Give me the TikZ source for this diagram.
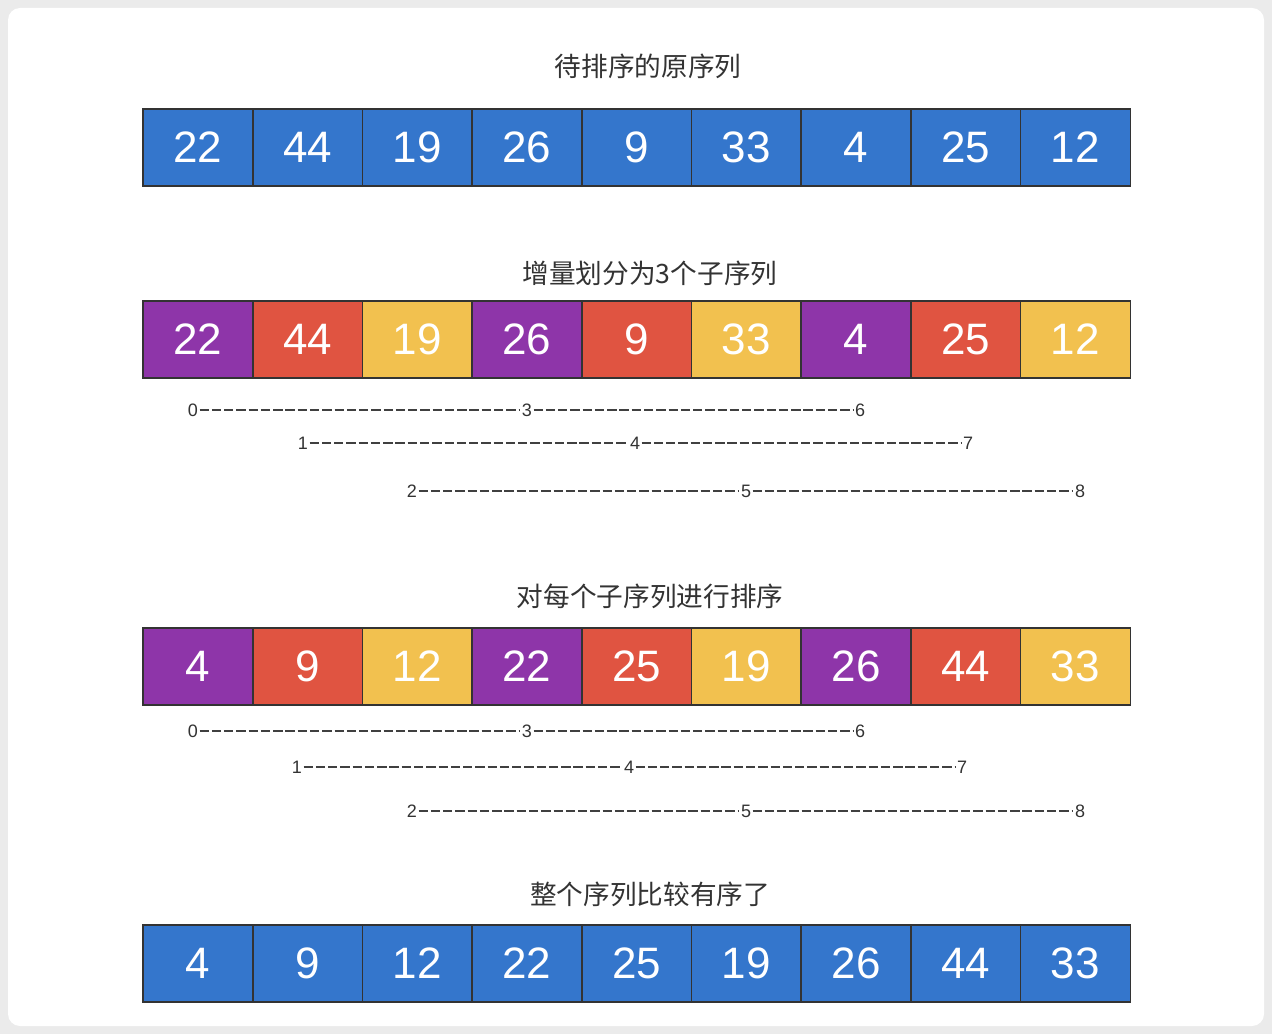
\documentclass[tikz,border=0pt]{standalone}
\usepackage{fontspec}
\setmainfont{Liberation Sans}
\newfontfamily\cjk{Noto Sans CJK SC}
\begin{document}
\begin{tikzpicture}[x=0.75pt,y=-0.75pt,
  cell/.style={draw=black!80,line width=1.2pt,minimum width=109.7*0.75pt,minimum height=77*0.75pt,inner sep=0pt,text=white,font=\fontsize{33}{36}\selectfont},
  ttl/.style={font=\cjk\fontsize{20}{22}\selectfont,text=black!80},
  idx/.style={font=\fontsize{13.5}{15}\selectfont,text=black!80,inner sep=1pt},
  dl/.style={draw=black!75,line width=0.9pt,dash pattern=on 7pt off 2.2pt}]
\definecolor{cb}{HTML}{3476CC}
\definecolor{cp}{HTML}{8E35A9}
\definecolor{cr}{HTML}{E05441}
\definecolor{cy}{HTML}{F2C14F}
\fill[black!8] (0,0) rectangle (1272,1034);
\fill[white,rounded corners=9pt] (8,8) rectangle (1264,1026);
\useasboundingbox (0,0) rectangle (1272,1034);
\node[ttl] (t1) at (648,66) {待排序的原序列};
\node[ttl] (t2) at (650,273) {增量划分为3个子序列};
\node[ttl] (t3) at (650,596) {对每个子序列进行排序};
\node[ttl] (t4) at (650,894) {整个序列比较有序了};
\foreach \v [count=\i] in {22,44,19,26,9,33,4,25,12}
  \node[cell,fill=cb] (a\i) at ({143+109.7*(\i-0.5)},147.5) {\v};
\foreach \v/\c [count=\i] in {22/cp,44/cr,19/cy,26/cp,9/cr,33/cy,4/cp,25/cr,12/cy}
  \node[cell,fill=\c] (b\i) at ({143+109.7*(\i-0.5)},339.5) {\v};
\foreach \v/\c [count=\i] in {4/cp,9/cr,12/cy,22/cp,25/cr,19/cy,26/cp,44/cr,33/cy}
  \node[cell,fill=\c] (c\i) at ({143+109.7*(\i-0.5)},666.5) {\v};
\foreach \v [count=\i] in {4,9,12,22,25,19,26,44,33}
  \node[cell,fill=cb] (d\i) at ({143+109.7*(\i-0.5)},963.5) {\v};
% index lines row 2
\node[idx] (p0) at (193,410) {0}; \node[idx] (p3) at (527,410) {3}; \node[idx] (p6) at (860,410) {6};
\node[idx] (p1) at (303,443) {1}; \node[idx] (p4) at (635,443) {4}; \node[idx] (p7) at (968,443) {7};
\node[idx] (p2) at (412,491) {2}; \node[idx] (p5) at (746,491) {5}; \node[idx] (p8) at (1080,491) {8};
\draw[dl] (p0)--(p3); \draw[dl] (p3)--(p6);
\draw[dl] (p1)--(p4); \draw[dl] (p4)--(p7);
\draw[dl] (p2)--(p5); \draw[dl] (p5)--(p8);
% index lines row 3
\node[idx] (q0) at (193,731) {0}; \node[idx] (q3) at (527,731) {3}; \node[idx] (q6) at (860,731) {6};
\node[idx] (q1) at (297,767) {1}; \node[idx] (q4) at (629,767) {4}; \node[idx] (q7) at (962,767) {7};
\node[idx] (q2) at (412,811) {2}; \node[idx] (q5) at (746,811) {5}; \node[idx] (q8) at (1080,811) {8};
\draw[dl] (q0)--(q3); \draw[dl] (q3)--(q6);
\draw[dl] (q1)--(q4); \draw[dl] (q4)--(q7);
\draw[dl] (q2)--(q5); \draw[dl] (q5)--(q8);
\end{tikzpicture}
\end{document}
